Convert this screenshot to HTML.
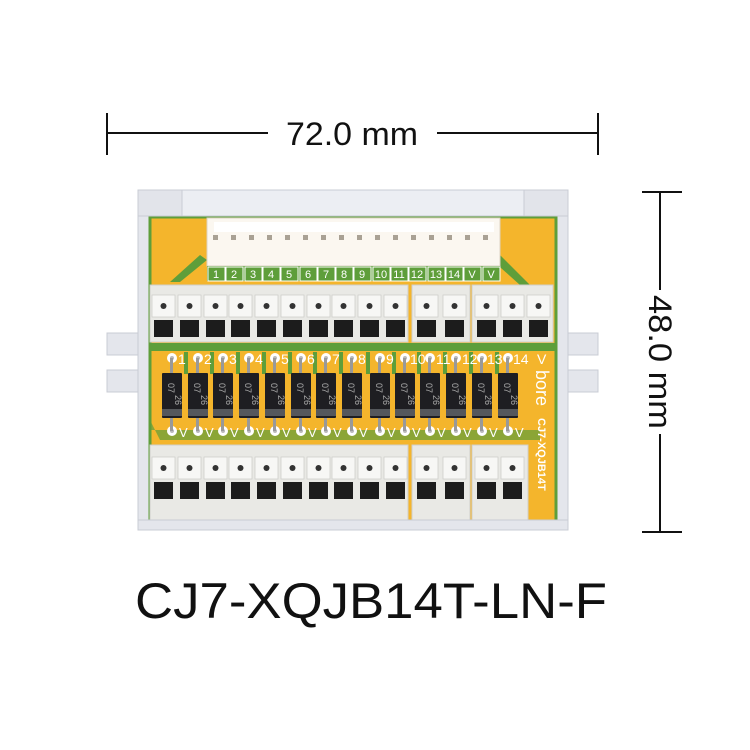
<!DOCTYPE html>
<html><head><meta charset="utf-8"><style>
html,body{margin:0;padding:0;background:#fff;width:750px;height:750px;overflow:hidden}
svg{display:block}
text{font-family:"Liberation Sans","Noto Sans CJK SC",sans-serif}
</style></head><body>
<svg width="750" height="750" viewBox="0 0 750 750" xmlns="http://www.w3.org/2000/svg">
<defs>
<g id="tt"><rect x="1" y="10" width="23" height="22" fill="#f7f7f5" stroke="#cfcfcb" stroke-width="0.8"/><circle cx="12.5" cy="21" r="3" fill="#333"/><rect x="3" y="35" width="19" height="17" fill="#1c1c1c"/></g>
<g id="dd"><rect x="8" y="-15" width="3" height="16" fill="#999"/><rect x="8" y="44" width="3" height="14" fill="#999"/><rect x="0" y="0" width="20" height="45" rx="1" fill="#1e1e22"/><rect x="0" y="36" width="20" height="7" fill="#55585c"/><text x="0" y="0" transform="translate(6,10) rotate(90)" font-size="9" fill="#aaa">07</text><text x="0" y="0" transform="translate(13,22) rotate(90)" font-size="9" fill="#aaa">26</text></g>
<g id="pad"><circle r="5" fill="#fff"/><circle r="2" fill="#bbb"/></g>
<rect id="lc" width="17" height="14" fill="none" stroke="#fff" stroke-width="1"/>
</defs>
<g stroke="#111" stroke-width="2"><line x1="107" y1="113" x2="107" y2="155"/><line x1="598" y1="113" x2="598" y2="155"/><line x1="107" y1="133" x2="268" y2="133"/><line x1="437" y1="133" x2="598" y2="133"/></g>
<text x="352" y="145" font-size="32" text-anchor="middle" fill="#111" font-family="Noto Sans CJK SC" textLength="132" lengthAdjust="spacingAndGlyphs">72.0 mm</text>
<g stroke="#111" stroke-width="2"><line x1="642" y1="192" x2="682" y2="192"/><line x1="642" y1="532" x2="682" y2="532"/><line x1="660" y1="192" x2="660" y2="290"/><line x1="660" y1="434" x2="660" y2="532"/></g>
<text transform="translate(649,362) rotate(90)" font-size="32" text-anchor="middle" fill="#111" font-family="Noto Sans CJK SC" textLength="134" lengthAdjust="spacingAndGlyphs">48.0 mm</text>
<text x="371" y="618" font-size="50" text-anchor="middle" fill="#111" font-family="Noto Sans CJK SC" textLength="472" lengthAdjust="spacingAndGlyphs">CJ7-XQJB14T-LN-F</text>
<g fill="#e4e6ec" stroke="#c9ccd4" stroke-width="1">
<path d="M107 333 H140 V355 H107 Z M107 370 H140 V392 H107 Z"/>
<path d="M565 333 H598 V355 H565 Z M565 370 H598 V392 H565 Z"/>
<rect x="138" y="190" width="430" height="340"/>
</g>
<rect x="150" y="217" width="406" height="305" fill="#f4b52c"/>
<rect x="150" y="217" width="406" height="305" fill="none" stroke="#5e9e3a" stroke-width="3"/>
<rect x="138" y="190" width="430" height="26" fill="#eceef3" stroke="#c9ccd4"/>
<rect x="138" y="190" width="44" height="26" fill="#e2e4ea" stroke="#c9ccd4"/>
<rect x="524" y="190" width="44" height="26" fill="#e2e4ea" stroke="#c9ccd4"/>
<g fill="#5e9e3a">
<path d="M150 420 L160 440 L540 440 L540 430 L150 430 Z" opacity=".7"/>
<path d="M500 255 L530 285 L520 285 L492 260 Z"/>
<path d="M207 260 L180 282 L170 282 L200 255 Z"/>
<rect x="150" y="343" width="406" height="8"/>
</g>
<rect x="207" y="218" width="293" height="48" fill="#fbf7f0" stroke="#ddd3c5"/>
<rect x="214" y="222" width="280" height="10" fill="#fff"/>
<g fill="#a9a194">
<rect x="213" y="235" width="5" height="5"/><rect x="231" y="235" width="5" height="5"/><rect x="249" y="235" width="5" height="5"/><rect x="267" y="235" width="5" height="5"/><rect x="285" y="235" width="5" height="5"/><rect x="303" y="235" width="5" height="5"/><rect x="321" y="235" width="5" height="5"/><rect x="339" y="235" width="5" height="5"/><rect x="357" y="235" width="5" height="5"/><rect x="375" y="235" width="5" height="5"/><rect x="393" y="235" width="5" height="5"/><rect x="411" y="235" width="5" height="5"/><rect x="429" y="235" width="5" height="5"/><rect x="447" y="235" width="5" height="5"/><rect x="465" y="235" width="5" height="5"/><rect x="483" y="235" width="5" height="5"/>
</g>
<rect x="207" y="266" width="293" height="15" fill="#5e9e3a"/>
<g>
<use href="#lc" x="208" y="267"/><use href="#lc" x="226" y="267"/><use href="#lc" x="245" y="267"/><use href="#lc" x="263" y="267"/><use href="#lc" x="281" y="267"/><use href="#lc" x="300" y="267"/><use href="#lc" x="318" y="267"/><use href="#lc" x="336" y="267"/><use href="#lc" x="354" y="267"/><use href="#lc" x="373" y="267"/><use href="#lc" x="391" y="267"/><use href="#lc" x="409" y="267"/><use href="#lc" x="428" y="267"/><use href="#lc" x="446" y="267"/><use href="#lc" x="464" y="267"/><use href="#lc" x="483" y="267"/>
</g>
<g font-size="11" fill="#fff" text-anchor="middle" font-family="Liberation Serif">
<text x="216" y="278">1</text><text x="234" y="278">2</text><text x="253" y="278">3</text><text x="271" y="278">4</text><text x="289" y="278">5</text><text x="308" y="278">6</text><text x="326" y="278">7</text><text x="344" y="278">8</text><text x="362" y="278">9</text><text x="381" y="278">10</text><text x="399" y="278">11</text><text x="417" y="278">12</text><text x="436" y="278">13</text><text x="454" y="278">14</text><text x="472" y="278">V</text><text x="491" y="278">V</text>
</g>
<g fill="#e9e9e5" stroke="#cfcfca"><rect x="150" y="285" width="258" height="57"/><rect x="412" y="285" width="58" height="57"/><rect x="472" y="285" width="81" height="57"/></g>
<g>
<use href="#tt" x="151" y="285"/><use href="#tt" x="177" y="285"/><use href="#tt" x="203" y="285"/><use href="#tt" x="228" y="285"/><use href="#tt" x="254" y="285"/><use href="#tt" x="280" y="285"/><use href="#tt" x="306" y="285"/><use href="#tt" x="331" y="285"/><use href="#tt" x="357" y="285"/><use href="#tt" x="383" y="285"/>
<use href="#tt" x="414" y="285"/><use href="#tt" x="442" y="285"/>
<use href="#tt" x="474" y="285"/><use href="#tt" x="500" y="285"/><use href="#tt" x="526" y="285"/>
</g>
<g fill="#5e9e3a">
<rect x="184" y="352" width="4" height="22"/><rect x="210" y="352" width="4" height="22"/><rect x="236" y="352" width="4" height="22"/><rect x="262" y="352" width="4" height="22"/><rect x="288" y="352" width="4" height="22"/><rect x="313" y="352" width="4" height="22"/><rect x="339" y="352" width="4" height="22"/><rect x="366" y="352" width="4" height="22"/><rect x="392" y="352" width="4" height="22"/><rect x="417" y="352" width="4" height="22"/><rect x="443" y="352" width="4" height="22"/><rect x="469" y="352" width="4" height="22"/><rect x="495" y="352" width="4" height="22"/>
</g>
<g>
<use href="#pad" x="172" y="358"/><use href="#pad" x="198" y="358"/><use href="#pad" x="223" y="358"/><use href="#pad" x="249" y="358"/><use href="#pad" x="275" y="358"/><use href="#pad" x="301" y="358"/><use href="#pad" x="326" y="358"/><use href="#pad" x="352" y="358"/><use href="#pad" x="380" y="358"/><use href="#pad" x="405" y="358"/><use href="#pad" x="430" y="358"/><use href="#pad" x="456" y="358"/><use href="#pad" x="482" y="358"/><use href="#pad" x="508" y="358"/>
<use href="#pad" x="172" y="431"/><use href="#pad" x="198" y="431"/><use href="#pad" x="223" y="431"/><use href="#pad" x="249" y="431"/><use href="#pad" x="275" y="431"/><use href="#pad" x="301" y="431"/><use href="#pad" x="326" y="431"/><use href="#pad" x="352" y="431"/><use href="#pad" x="380" y="431"/><use href="#pad" x="405" y="431"/><use href="#pad" x="430" y="431"/><use href="#pad" x="456" y="431"/><use href="#pad" x="482" y="431"/><use href="#pad" x="508" y="431"/>
</g>
<g>
<use href="#dd" x="162" y="373"/><use href="#dd" x="188" y="373"/><use href="#dd" x="213" y="373"/><use href="#dd" x="239" y="373"/><use href="#dd" x="265" y="373"/><use href="#dd" x="291" y="373"/><use href="#dd" x="316" y="373"/><use href="#dd" x="342" y="373"/><use href="#dd" x="370" y="373"/><use href="#dd" x="395" y="373"/><use href="#dd" x="420" y="373"/><use href="#dd" x="446" y="373"/><use href="#dd" x="472" y="373"/><use href="#dd" x="498" y="373"/>
</g>
<g font-size="14" fill="#fff" font-family="Liberation Serif">
<text x="178" y="364">1</text><text x="204" y="364">2</text><text x="229" y="364">3</text><text x="255" y="364">4</text><text x="281" y="364">5</text><text x="307" y="364">6</text><text x="332" y="364">7</text><text x="358" y="364">8</text><text x="386" y="364">9</text><text x="410" y="364">10</text><text x="436" y="364">11</text><text x="462" y="364">12</text><text x="487" y="364">13</text><text x="513" y="364">14</text><text x="537" y="364">V</text>
</g>
<g font-size="13" fill="#fff" font-family="Liberation Serif">
<text x="179" y="437">V</text><text x="205" y="437">V</text><text x="230" y="437">V</text><text x="256" y="437">V</text><text x="282" y="437">V</text><text x="308" y="437">V</text><text x="333" y="437">V</text><text x="359" y="437">V</text><text x="387" y="437">V</text><text x="412" y="437">V</text><text x="437" y="437">V</text><text x="463" y="437">V</text><text x="489" y="437">V</text><text x="515" y="437">V</text>
</g>
<text transform="translate(536,370) rotate(90)" font-size="18" fill="#fff">bore</text>
<text transform="translate(538,418) rotate(90)" font-size="11" fill="#fff" font-weight="bold">CJ7-XQJB14T</text>
<g fill="#e9e9e5" stroke="#cfcfca"><rect x="150" y="445" width="258" height="77"/><rect x="412" y="445" width="58" height="77"/><rect x="472" y="445" width="56" height="77"/></g>
<g>
<use href="#tt" x="151" y="447"/><use href="#tt" x="177" y="447"/><use href="#tt" x="203" y="447"/><use href="#tt" x="228" y="447"/><use href="#tt" x="254" y="447"/><use href="#tt" x="280" y="447"/><use href="#tt" x="306" y="447"/><use href="#tt" x="331" y="447"/><use href="#tt" x="357" y="447"/><use href="#tt" x="383" y="447"/>
<use href="#tt" x="414" y="447"/><use href="#tt" x="442" y="447"/>
<use href="#tt" x="474" y="447"/><use href="#tt" x="500" y="447"/>
</g>
<rect x="138" y="520" width="430" height="10" fill="#e4e6ec" stroke="#c9ccd4"/>
</svg>
</body></html>
